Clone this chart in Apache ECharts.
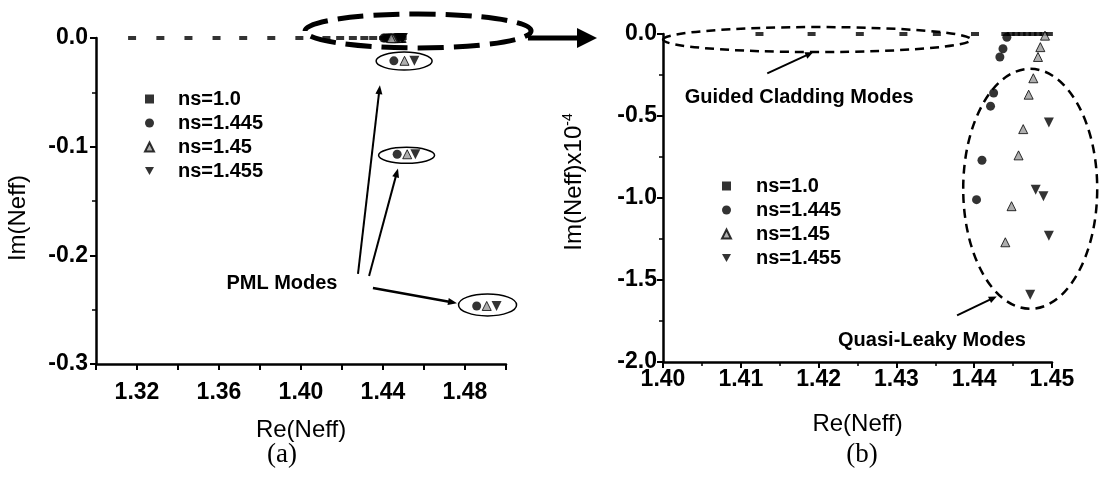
<!DOCTYPE html>
<html>
<head>
<meta charset="utf-8">
<script src="https://cdn.jsdelivr.net/npm/echarts@6/dist/echarts.min.js"></script>
<style>html,body{margin:0;padding:0;background:#fff}#container{width:1118px;height:477px}</style>
</head>
<body>
<div id="container"></div>
<script>
var names = ['ns=1.0', 'ns=1.445', 'ns=1.45', 'ns=1.455'];

// guided cladding + quasi-leaky modes, Im given in units of 1e-4 (panel b)
var sqRe = [1.4124, 1.4191, 1.4253, 1.4309, 1.4352, 1.4401, 1.4440, 1.4447, 1.4454, 1.4461, 1.4468, 1.4475, 1.4482, 1.4489, 1.4496];
var sqIm = [0, 0, 0, 0, 0, 0, 0, 0, 0, 0, 0, 0, 0, 0, 0];
var ciRe = [1.4442, 1.4437, 1.4433, 1.4425, 1.4421, 1.4410, 1.4403];
var ciIm = [-0.02, -0.09, -0.14, -0.36, -0.44, -0.77, -1.01];
var trRe = [1.4491, 1.4485, 1.4482, 1.4476, 1.4470, 1.4463, 1.4457, 1.4448, 1.4440];
var trIm = [-0.01, -0.08, -0.14, -0.27, -0.37, -0.58, -0.74, -1.05, -1.27];
var dnRe = [1.4496, 1.4479, 1.4489, 1.4496, 1.4472];
var dnIm = [-0.54, -0.95, -0.99, -1.23, -1.59];

// panel a only: lower cladding modes (Im=0) and PML modes
var sqFarRe = [1.3176, 1.3314, 1.3451, 1.3588, 1.3718, 1.3855, 1.3992];
var pmlIm = [-0.021, -0.107, -0.2466];
var pmlCiRe = [1.4453, 1.4469, 1.4857];
var pmlTrRe = [1.4505, 1.4518, 1.4906];
var pmlDnRe = [1.4553, 1.4558, 1.4954];

var FONT = '"Liberation Sans", Arial, sans-serif';
var myChart = echarts.init(document.getElementById('container'));

function pairs(xs, ys, k) {
    return xs.map(function (x, i) { return [x, ys[i] * k]; });
}

var dataA = [
    pairs(sqFarRe, sqFarRe.map(function () { return 0; }), 1).concat(pairs(sqRe, sqIm, 1e-4)),
    pairs(ciRe, ciIm, 1e-4).concat(pairs(pmlCiRe, pmlIm, 1)),
    pairs(trRe, trIm, 1e-4).concat(pairs(pmlTrRe, pmlIm, 1)),
    pairs(dnRe, dnIm, 1e-4).concat(pairs(pmlDnRe, pmlIm, 1))
];
var dataB = [pairs(sqRe, sqIm, 1), pairs(ciRe, ciIm, 1), pairs(trRe, trIm, 1), pairs(dnRe, dnIm, 1)];

var marks = [
    { symbol: 'rect', size: [8, 4], rotate: 0, style: { color: '#000' } },
    { symbol: 'circle', size: 9, rotate: 0, style: { color: '#000' } },
    { symbol: 'triangle', size: 9, rotate: 0, style: { color: '#9a9a9a', borderColor: '#000', borderWidth: 1 } },
    { symbol: 'triangle', size: 10, rotate: 180, style: { color: '#000' } }
];
var icons = ['rect', 'circle', 'triangle', 'path://M0,0L10,0L5,9Z'];

var series = [];
[dataA, dataB].forEach(function (set, gi) {
    set.forEach(function (d, i) {
        series.push({
            name: names[i], type: 'scatter', xAxisIndex: gi, yAxisIndex: gi,
            data: d, symbol: marks[i].symbol, symbolSize: marks[i].size, symbolRotate: marks[i].rotate,
            itemStyle: marks[i].style, clip: false, silent: true, z: 5
        });
    });
});

function axisBase(fmt, margin) {
    return {
        axisLine: { onZero: false, lineStyle: { color: '#000', width: 2.5 } },
        axisTick: { length: 6, lineStyle: { color: '#000', width: 2 } },
        minorTick: { show: true, splitNumber: 2, length: 4, lineStyle: { color: '#000', width: 1.5 } },
        splitLine: { show: false },
        axisLabel: { color: '#000', fontSize: 23, fontWeight: 'bold', fontFamily: FONT, margin: margin, formatter: fmt }
    };
}
function mk(extra, fmt, margin) {
    var o = axisBase(fmt, margin);
    o.type = 'value';
    for (var k in extra) o[k] = extra[k];
    return o;
}

var nameStyle = { color: '#000', fontSize: 24, fontFamily: FONT };

var option = {
    animation: false,
    backgroundColor: '#fff',
    grid: [
        { left: 96, top: 38, width: 410, height: 326 },
        { left: 663, top: 34, width: 389, height: 328 }
    ],
    xAxis: [
        mk({ gridIndex: 0, min: 1.30, max: 1.50, interval: 0.02, minorTick: { show: false },
            name: 'Re(Neff)', nameLocation: 'middle', nameGap: 54, nameTextStyle: nameStyle },
            function (v) { return Math.round(v * 100) % 4 === 0 ? v.toFixed(2) : ''; }, 17),
        mk({ gridIndex: 1, min: 1.40, max: 1.45, interval: 0.01,
            name: 'Re(Neff)', nameLocation: 'middle', nameGap: 50, nameTextStyle: nameStyle },
            function (v) { return v.toFixed(2); }, 6)
    ],
    yAxis: [
        mk({ gridIndex: 0, min: -0.3, max: 0, interval: 0.1,
            name: 'Im(Neff)', nameLocation: 'middle', nameRotate: 90, nameGap: 66,
            nameTextStyle: { color: '#000', fontSize: 24, fontFamily: FONT, padding: [0, 34, 0, 0] } },
            function (v) { return v.toFixed(1); }, 8),
        mk({ gridIndex: 1, min: -2.0, max: 0, interval: 0.5,
            name: '{m|Im(Neff)x10}{s|-4}', nameLocation: 'middle', nameRotate: 90, nameGap: 76,
            nameTextStyle: { padding: [0, 0, 0, 32], rich: {
                m: { color: '#000', fontSize: 24, fontFamily: FONT, lineHeight: 26 },
                s: { color: '#000', fontSize: 14, fontFamily: FONT, verticalAlign: 'top' } } } },
            function (v) { return v.toFixed(1); }, 6)
    ],
    legend: [
        { left: 139, top: 84, orient: 'vertical', itemWidth: 9, itemHeight: 9, itemGap: 4, selectedMode: false,
          data: names.map(function (n, i) { return { name: n, icon: icons[i] }; }),
          textStyle: { color: '#000', fontSize: 20, fontWeight: 'bold', fontFamily: FONT, lineHeight: 20, padding: [0, 0, 0, 19] } },
        { left: 716, top: 171, orient: 'vertical', itemWidth: 9, itemHeight: 9, itemGap: 4, selectedMode: false,
          data: names.map(function (n, i) { return { name: n, icon: icons[i] }; }),
          textStyle: { color: '#000', fontSize: 20, fontWeight: 'bold', fontFamily: FONT, lineHeight: 20, padding: [0, 0, 0, 20] } }
    ],
    series: series
};
myChart.setOption(option);

// annotations, anchored in data coordinates
function P(gi, x, y) { return myChart.convertToPixel({ gridIndex: gi }, [x, y]); }
function arrow(p0, p1, w, head, hw) {
    var dx = p1[0] - p0[0], dy = p1[1] - p0[1], L = Math.sqrt(dx * dx + dy * dy);
    var ux = dx / L, uy = dy / L;
    var bx = p1[0] - ux * head, by = p1[1] - uy * head;
    return [
        { type: 'line', z: 50, shape: { x1: p0[0], y1: p0[1], x2: bx + ux, y2: by + uy }, style: { stroke: '#000', lineWidth: w } },
        { type: 'polygon', z: 50, shape: { points: [p1, [bx - uy * hw, by + ux * hw], [bx + uy * hw, by - ux * hw]] }, style: { fill: '#000' } }
    ];
}
function ellipse(c, rx, ry, w, dash) {
    return { type: 'ellipse', z: 50, shape: { cx: c[0], cy: c[1], rx: rx, ry: ry },
        style: { fill: null, stroke: '#000', lineWidth: w, lineDash: dash } };
}
function label(p, txt, size, align, fam) {
    return { type: 'text', z: 50, x: p[0], y: p[1],
        style: { text: txt, font: size + ' ' + (fam || FONT), fill: '#000', align: align, verticalAlign: 'middle' } };
}

var g = [];
// panel a
g.push(ellipse(P(0, 1.4571, 0.0065), 113, 17, 5, [26, 10]));
g = g.concat(arrow(P(0, 1.5107, 0), P(0, 1.5444, 0), 5, 20, 10));
g.push(ellipse(P(0, 1.4503, -0.0212), 28, 9, 1.5, null));
g.push(ellipse(P(0, 1.4515, -0.108), 28, 8, 1.5, null));
g.push(ellipse(P(0, 1.4910, -0.2456), 29, 11, 1.5, null));
g = g.concat(arrow(P(0, 1.4278, -0.217), P(0, 1.4385, -0.0434), 2, 9, 3.5));
g = g.concat(arrow(P(0, 1.4332, -0.219), P(0, 1.4473, -0.120), 2, 9, 3.5));
g = g.concat(arrow(P(0, 1.4351, -0.230), P(0, 1.4761, -0.244), 2.5, 9, 3.5));
g.push(label(P(0, 1.3907, -0.226), 'PML Modes', 'bold 20px', 'center'));
// panel b
g.push(ellipse(P(1, 1.4198, -0.034), 154, 12.5, 2.5, [9, 6]));
g = g.concat(arrow(P(1, 1.4134, -0.24), P(1, 1.4193, -0.111), 2, 8, 3.5));
g.push(label(P(1, 1.4028, -0.389), 'Guided Cladding Modes', 'bold 20px', 'left'));
g.push(ellipse(P(1, 1.4472, -0.944), 67, 120, 2.5, [9, 6]));
g = g.concat(arrow(P(1, 1.4378, -1.716), P(1, 1.4429, -1.60), 2, 8, 3.5));
g.push(label(P(1, 1.4225, -1.87), 'Quasi-Leaky Modes', 'bold 20px', 'left'));
// sub-figure captions
g.push(label([282, 455], '(a)', '27px', 'center', '"Liberation Serif", serif'));
g.push(label([862, 455], '(b)', '27px', 'center', '"Liberation Serif", serif'));

myChart.setOption({ graphic: g });
</script>
</body>
</html>
